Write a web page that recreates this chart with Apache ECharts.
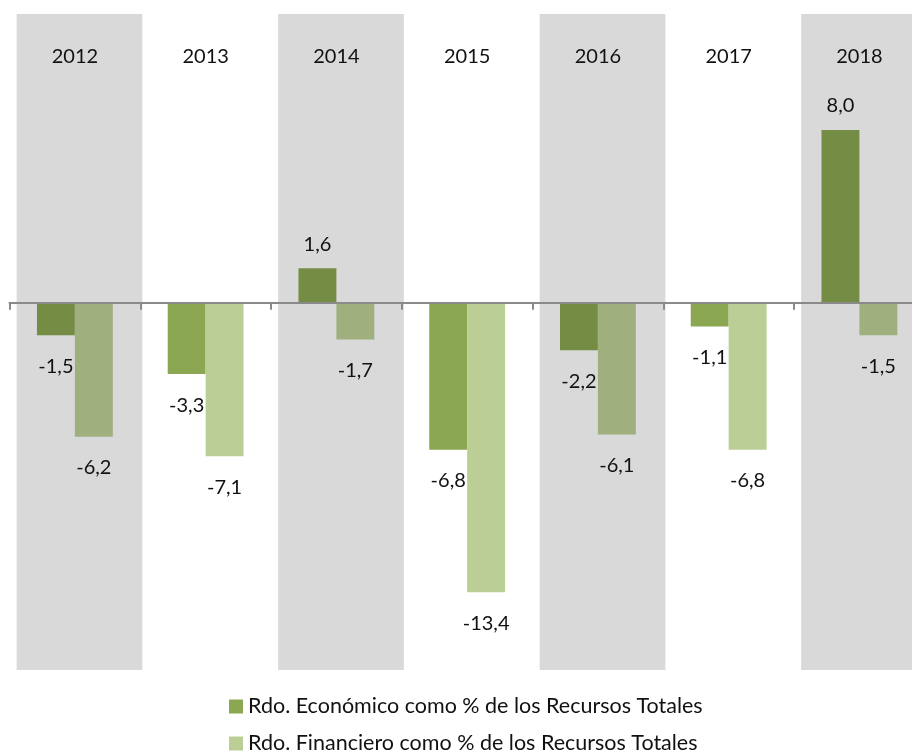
<!DOCTYPE html>
<html>
<head>
<meta charset="utf-8">
<script src="https://cdn.jsdelivr.net/npm/echarts@6/dist/echarts.min.js"></script>
<style>
html,body{margin:0;padding:0;background:#fff;}
#c{width:912px;height:755px;}
</style>
</head>
<body>
<div id="c"></div>
<script>
var years = ['2012', '2013', '2014', '2015', '2016', '2017', '2018'];
var economico = [-1.5, -3.3, 1.6, -6.8, -2.2, -1.1, 8.0];
var financiero = [-6.2, -7.1, -1.7, -13.4, -6.1, -6.8, -1.5];
var shadedYears = ['2012', '2014', '2016', '2018'];
var seriesNames = ['Rdo. Económico como % de los Recursos Totales', 'Rdo. Financiero como % de los Recursos Totales'];

var FONT = 'Lato';
var darkWhite = '#8BA751', darkGray = '#758C44';
var lightWhite = '#BACE95', lightGray = '#9FAF7E';

function fmt(v){ return v.toFixed(1).replace('.', ','); }

function buildData(vals, colWhite, colGray){
  return vals.map(function(v, i){
    var shaded = shadedYears.indexOf(years[i]) >= 0;
    return {
      value: v,
      itemStyle: { color: shaded ? colGray : colWhite },
      label: { position: v < 0 ? 'bottom' : 'top', distance: v < 0 ? 21 : 14 }
    };
  });
}

var bandData = years.map(function(y){ return shadedYears.indexOf(y) >= 0 ? 1 : '-'; });

var chart = echarts.init(document.getElementById('c'), null, {renderer: 'canvas'});
chart.setOption({
  animation: false,
  textStyle: { fontFamily: FONT },
  grid: [
    { left: 9.5, width: 915.3, top: 14, bottom: 85, outerBoundsMode: 'none', containLabel: false },
    { left: 14.1, width: 915.3, top: 14, bottom: 85, outerBoundsMode: 'none', containLabel: false }
  ],
  legend: {
    orient: 'vertical',
    left: 229,
    top: 695,
    padding: 0,
    itemWidth: 14,
    itemHeight: 14,
    itemGap: 14,
    icon: 'rect',
    textStyle: { fontFamily: FONT, fontSize: 21.5, color: '#111', lineHeight: 23 },
    data: seriesNames
  },
  xAxis: [
    {
      type: 'category', data: years, gridIndex: 0, position: 'bottom', z: 5,
      axisLine: { onZero: true, lineStyle: { color: '#8a8a8a', width: 2 } },
      axisTick: { show: true, length: 7, lineStyle: { color: '#8a8a8a', width: 2 } },
      axisLabel: { show: false }
    },
    {
      type: 'category', data: years, gridIndex: 0, position: 'top',
      axisLine: { show: false }, axisTick: { show: false },
      axisLabel: { show: true, inside: true, margin: 43, fontFamily: FONT, fontSize: 20, color: '#111', verticalAlign: 'middle' }
    },
    {
      type: 'category', data: years, gridIndex: 1, show: false
    }
  ],
  yAxis: [
    { type: 'value', gridIndex: 0, min: -17, max: 13.37, show: false, splitLine: { show: false } },
    { type: 'value', gridIndex: 1, min: 0, max: 1, show: false, splitLine: { show: false } }
  ],
  series: [
    {
      type: 'bar', name: 'band', xAxisIndex: 2, yAxisIndex: 1, data: bandData,
      barWidth: 125.7, z: 0, silent: true,
      itemStyle: { color: '#D9D9D9' }, legendHoverLink: false
    },
    {
      type: 'bar', name: seriesNames[0], xAxisIndex: 0, yAxisIndex: 0,
      data: buildData(economico, darkWhite, darkGray),
      barWidth: '29%', barGap: '0%', z: 3,
      itemStyle: { color: darkWhite },
      label: { show: true, fontFamily: FONT, fontSize: 20, color: '#111', formatter: function(p){ return fmt(p.value); } }
    },
    {
      type: 'bar', name: seriesNames[1], xAxisIndex: 0, yAxisIndex: 0,
      data: buildData(financiero, lightWhite, lightGray),
      barWidth: '29%', barGap: '0%', z: 3,
      itemStyle: { color: lightWhite },
      label: { show: true, fontFamily: FONT, fontSize: 20, color: '#111', formatter: function(p){ return fmt(p.value); } }
    }
  ]
});
</script>
</body>
</html>
